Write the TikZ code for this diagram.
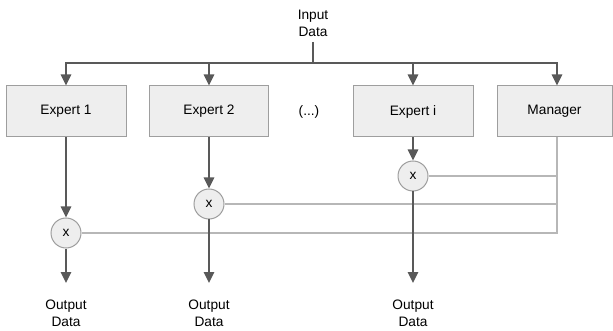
\documentclass[tikz,border=0pt]{standalone}
\usepackage{fontspec}
\setmainfont{Liberation Sans}
\usetikzlibrary{arrows.meta}
\definecolor{dk}{HTML}{595959}
\definecolor{lt}{HTML}{B7B7B7}
\definecolor{bx}{HTML}{EEEEEE}
\definecolor{bd}{HTML}{9E9E9E}
\begin{document}
\begin{tikzpicture}[x=1pt,y=-1pt,
  font=\fontsize{13.7}{17}\selectfont,
  box/.style={draw=bd, fill=bx, line width=1pt, minimum width=120pt, minimum height=51pt, inner sep=0pt},
  mul/.style={circle, draw=bd, fill=bx, line width=1pt, minimum size=30pt, inner sep=0pt},
  dkline/.style={draw=dk, line width=2.5pt},
  arr/.style={dkline, -{Triangle[width=10pt,length=11pt]}},
  ltline/.style={draw=lt, line width=2pt},
  lbl/.style={align=center, inner sep=0pt}]
\useasboundingbox (0,0) rectangle (613,331);

% input
\node[lbl] (in) at (313,23.5) {Input\\Data};
\coordinate (bus) at (313,63);

% boxes
\node[box] (e1) at (66,111.5) {Expert 1};
\node[box, minimum width=119pt] (e2) at (209,111.5) {Expert 2};
\node[lbl] (dots) at (309,112) {(...)};
\node[box] (ei) at (413,111.5) {Expert i};
\node[box, minimum width=115pt] (mgr) at (554.5,111.5) {Manager};
\coordinate (mcol) at (557,111.5);

% multipliers
\node[mul] (c1) at (66,233) {x};
\node[mul] (c2) at (209,204) {x};
\node[mul] (ci) at (413,176) {x};

% outputs
\node[lbl, anchor=north] (o1) at (66,300) {Output\\Data};
\node[lbl, anchor=north] (o2) at (209,300) {Output\\Data};
\node[lbl, anchor=north] (oi) at (413,300) {Output\\Data};

% input distribution
\draw[dkline, shorten <=5pt] (in.south) -- (bus);
\draw[arr] (bus) -| (e1.north);
\draw[arr] (bus) -| (e2.north);
\draw[arr] (bus) -| (ei.north);
\draw[arr] (bus) -| (mcol |- mgr.north);

% manager gating lines
\draw[ltline] (mcol |- mgr.south) -- (mcol |- c1) -- (c1);
\draw[ltline] (c2) -- (c2 -| mcol);
\draw[ltline] (ci) -- (ci -| mcol);

% expert to multiplier
\draw[arr] (e1) -- (c1);
\draw[arr] (e2) -- (c2);
\draw[arr] (ei) -- (ci);

% multiplier to output
\draw[arr, shorten >=17pt] (c1) -- (o1.north);
\draw[arr, shorten >=17pt] (c2) -- (o2.north);
\draw[arr, shorten >=17pt] (ci) -- (oi.north);
\end{tikzpicture}
\end{document}
